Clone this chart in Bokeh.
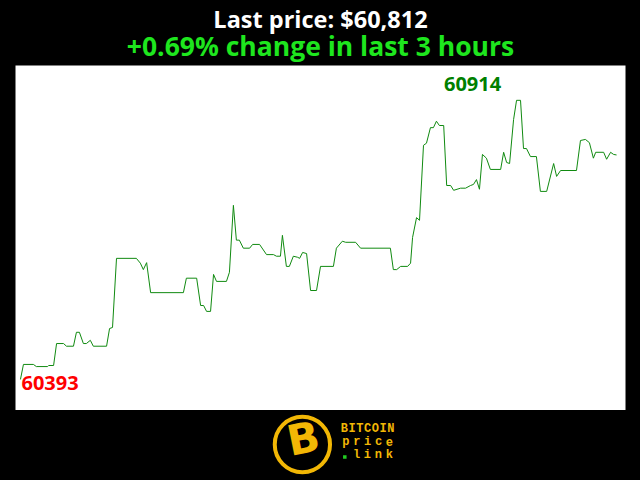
from bokeh.plotting import figure
from bokeh.layouts import column
from bokeh.models import Range1d, ColumnDataSource
from bokeh.core.properties import value
from bokeh.embed import file_html
from bokeh.resources import INLINE

# ---- data (minutes since start, price USD) ----
minutes = [0, 0.9, 3.9, 4.8, 8.2, 8.5, 10.0, 10.9, 13.0, 13.9, 16.0, 16.9, 17.8, 19.0, 19.9,
           21.1, 22.0, 26.0, 26.9, 27.8, 29.0, 35.0, 36.2, 37.1, 38.1, 39.3, 49.2, 50.1, 53.2,
           54.4, 55.3, 56.2, 57.4, 58.3, 59.2, 62.2, 63.1, 64.3, 65.2, 66.1, 67.3, 69.2, 70.1,
           72.2, 74.3, 76.4, 77.3, 78.5, 79.1, 80.3, 81.2, 82.4, 83.7, 84.3, 85.2, 86.4, 87.6,
           89.4, 90.6, 94.5, 95.4, 97.2, 98.2, 101.2, 102.7, 111.7, 112.6, 113.6, 114.8, 116.9,
           117.8, 118.4, 119.6, 120.5, 121.7, 122.6, 123.8, 124.7, 125.6, 126.5, 127.8, 128.7,
           129.9, 130.8, 132.9, 134.4, 135.9, 136.8, 137.7, 138.6, 139.5, 140.7, 141.9, 145.0,
           145.9, 146.8, 147.7, 148.9, 149.8, 151.0, 151.9, 152.8, 154.0, 155.8, 157.0, 158.9,
           161.0, 161.9, 163.1, 167.9, 169.1, 170.6, 171.8, 173.0, 173.7, 176.1, 177.0, 178.2,
           179.1, 180.0]
prices = [60393, 60421, 60421, 60417, 60417, 60419, 60419, 60460, 60460, 60455, 60455, 60481,
          60481, 60460, 60460, 60466, 60455, 60455, 60488, 60490, 60619, 60619, 60610, 60598,
          60611, 60555, 60555, 60582, 60582, 60531, 60531, 60520, 60520, 60589, 60576, 60576,
          60593, 60718, 60653, 60653, 60638, 60638, 60645, 60645, 60626, 60626, 60623, 60623,
          60662, 60604, 60604, 60623, 60621, 60619, 60630, 60628, 60559, 60559, 60604, 60604,
          60638, 60651, 60649, 60649, 60638, 60638, 60598, 60598, 60604, 60604, 60610, 60658,
          60695, 60690, 60830, 60834, 60863, 60863, 60875, 60867, 60867, 60755, 60755, 60746,
          60750, 60750, 60755, 60757, 60766, 60748, 60813, 60806, 60785, 60785, 60817, 60798,
          60796, 60878, 60914, 60914, 60824, 60824, 60809, 60809, 60744, 60744, 60796, 60772,
          60783, 60783, 60839, 60841, 60835, 60806, 60817, 60817, 60804, 60817, 60813, 60812]

title_text = "Last price: $60,812"
subtitle_text = "+0.69% change in last 3 hours"
min_label = "60393"
max_label = "60914"
logo_lines = ["BITCOIN", "price", "link"]
min_idx = prices.index(min(prices))
max_idx = prices.index(max(prices))

W = 640
FONT = value("Open Sans")

# ---- header ----
hdr = figure(width=W, height=65, output_backend="svg", toolbar_location=None,
             x_range=Range1d(0, W), y_range=Range1d(65, 0),
             min_border=0, border_fill_color="black", background_fill_color="black",
             outline_line_color=None)
hdr.axis.visible = False
hdr.grid.visible = False
hdr.text(x=[W / 2], y=[18], text=[title_text], text_align="center", text_baseline="alphabetic",
         text_font=FONT, text_font_style="bold", text_font_size="23.5px", text_color="white")
hdr.text(x=[W / 2], y=[45], text=[subtitle_text], text_align="center", text_baseline="alphabetic",
         text_font=FONT, text_font_style="bold", text_font_size="26.5px", text_color="#1ee61e")

# ---- main chart ----
src = ColumnDataSource(dict(t=minutes, p=prices))
p = figure(width=W, height=345, output_backend="svg", toolbar_location=None,
           x_range=Range1d(-1.5, 182.7), y_range=Range1d(60335, 60979),
           min_border_left=15, min_border_right=15, min_border_top=0, min_border_bottom=0,
           border_fill_color="black", background_fill_color="white",
           outline_line_color=None)
p.axis.visible = False
p.grid.visible = False
p.line("t", "p", source=src, line_color="#108a10", line_width=1)
p.text(x=[minutes[min_idx]], y=[prices[min_idx]], text=[min_label], text_align="left",
       text_baseline="alphabetic", x_offset=1, y_offset=4, text_font=FONT,
       text_font_style="bold", text_font_size="20px", text_color="#ff0000")
p.text(x=[minutes[max_idx]], y=[prices[max_idx]], text=[max_label], text_align="center",
       text_baseline="alphabetic", x_offset=-44, y_offset=-16, text_font=FONT,
       text_font_style="bold", text_font_size="20px", text_color="#008000")

# ---- logo footer (page y 410..480) ----
ftr = figure(width=W, height=70, output_backend="svg", toolbar_location=None,
             x_range=Range1d(0, W), y_range=Range1d(70, 0),
             min_border=0, border_fill_color="black", background_fill_color="black",
             outline_line_color=None)
ftr.axis.visible = False
ftr.grid.visible = False
gold = "#f2b705"
ftr.circle(x=[301], y=[34], radius=29, fill_color="black", line_color=gold, line_width=4)
ftr.text(x=[302], y=[28], text=["B"], text_align="center", text_baseline="middle",
         text_font=value("DejaVu Sans"), text_font_style="bold", text_font_size="42px",
         text_color=gold, angle=0.2)
mono = value("Liberation Mono")
# letter-spaced lines, each spread over the same width
spans = [(341, 398, 18), (341, 398, 31), (352, 398, 44)]
for word, (x0, x1, yb) in zip(logo_lines, spans):
    step = (x1 - x0) / len(word)
    xs = [x0 + step * (i + 0.5) for i in range(len(word))]
    ftr.text(x=xs, y=[yb] * len(word), text=list(word), text_align="center",
             text_baseline="alphabetic", text_font=mono, text_font_style="bold",
             text_font_size="12px", text_color=gold)
ftr.scatter(x=[345.5], y=[46.5], size=3.5, marker="square", fill_color="#22cc22", line_color=None)

layout = column(hdr, p, ftr, spacing=0, background="black")

html = file_html(layout, INLINE)
html = html.replace("<body>", '<body style="background-color:black;">', 1)
open("out.html", "w").write(html)
